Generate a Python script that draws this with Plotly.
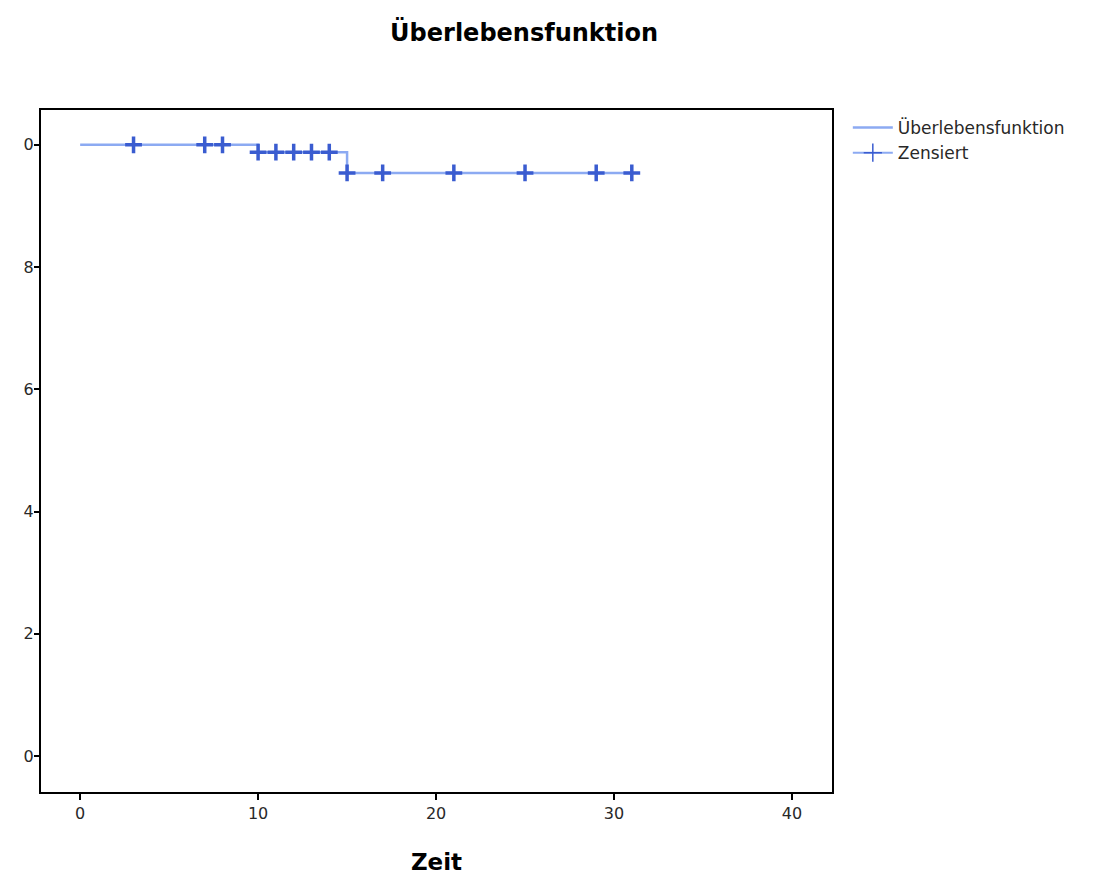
import plotly.graph_objects as go

# Survival step function
step_time = [0, 10, 10, 15, 15, 31]
step_surv = [1.0, 1.0, 0.988, 0.988, 0.954, 0.954]

# Censored observations
cens_time = [3, 7, 8, 10, 11, 12, 13, 14, 15, 17, 21, 25, 29, 31]
cens_surv = [1.0, 1.0, 1.0, 0.988, 0.988, 0.988, 0.988, 0.988,
             0.954, 0.954, 0.954, 0.954, 0.954, 0.954]

x_ticks = [0, 10, 20, 30, 40]
y_ticks = [0.0, 0.2, 0.4, 0.6, 0.8, 1.0]
y_ticklabels = ["0", "2", "4", "6", "8", "0"]

line_col = "rgb(140,170,242)"
mark_col = "rgb(58,92,208)"
font = "DejaVu Sans"
tick_col = "rgb(40,40,40)"

fig = go.Figure()
fig.add_trace(go.Scatter(x=step_time, y=step_surv, mode="lines",
                         line=dict(color=line_col, width=2.5, shape="linear"),
                         name="Überlebensfunktion", showlegend=True))
fig.add_trace(go.Scatter(x=cens_time, y=cens_surv, mode="markers",
                         marker=dict(symbol="cross-thin", size=12,
                                     line=dict(color=mark_col, width=3.5)),
                         name="Zensiert", showlegend=False))
fig.add_trace(go.Scatter(x=[None], y=[None], mode="lines+markers",
                         line=dict(color=line_col, width=2),
                         marker=dict(symbol="cross-thin", size=13,
                                     line=dict(color=mark_col, width=1.5)),
                         name="Zensiert", showlegend=True))

fig.update_layout(
    width=1108, height=876,
    margin=dict(l=41, r=276, t=110, b=84),
    paper_bgcolor="white", plot_bgcolor="white",
    title=dict(text="<b>Überlebensfunktion</b>", x=0.473, xanchor="center",
               y=0.963, yanchor="middle",
               font=dict(family=font, size=24, color="black")),
    font=dict(family=font, size=15, color="black"),
    legend=dict(x=1.02, y=1.0, xanchor="left", yanchor="top",
                font=dict(family=font, size=17, color=tick_col),
                bgcolor="rgba(0,0,0,0)", tracegroupgap=0, itemwidth=40),
    xaxis=dict(range=[-2.2, 42.25], tickvals=x_ticks, automargin=False,
               showgrid=False, zeroline=False,
               showline=True, linecolor="black", linewidth=2, mirror=True,
               ticks="outside", ticklen=6, tickwidth=2, tickcolor="black",
               tickfont=dict(family=font, size=16, color=tick_col),
               title=dict(text="<b>Zeit</b>", font=dict(family=font, size=23),
                          standoff=32)),
    yaxis=dict(range=[-0.059, 1.057], tickvals=y_ticks, ticktext=y_ticklabels,
               automargin=False, ticklabelstandoff=-3,
               showgrid=False, zeroline=False,
               showline=True, linecolor="black", linewidth=2, mirror=True,
               ticks="outside", ticklen=5, tickwidth=2, tickcolor="black",
               tickfont=dict(family=font, size=16, color=tick_col)),
)

fig.write_html("out.html")
